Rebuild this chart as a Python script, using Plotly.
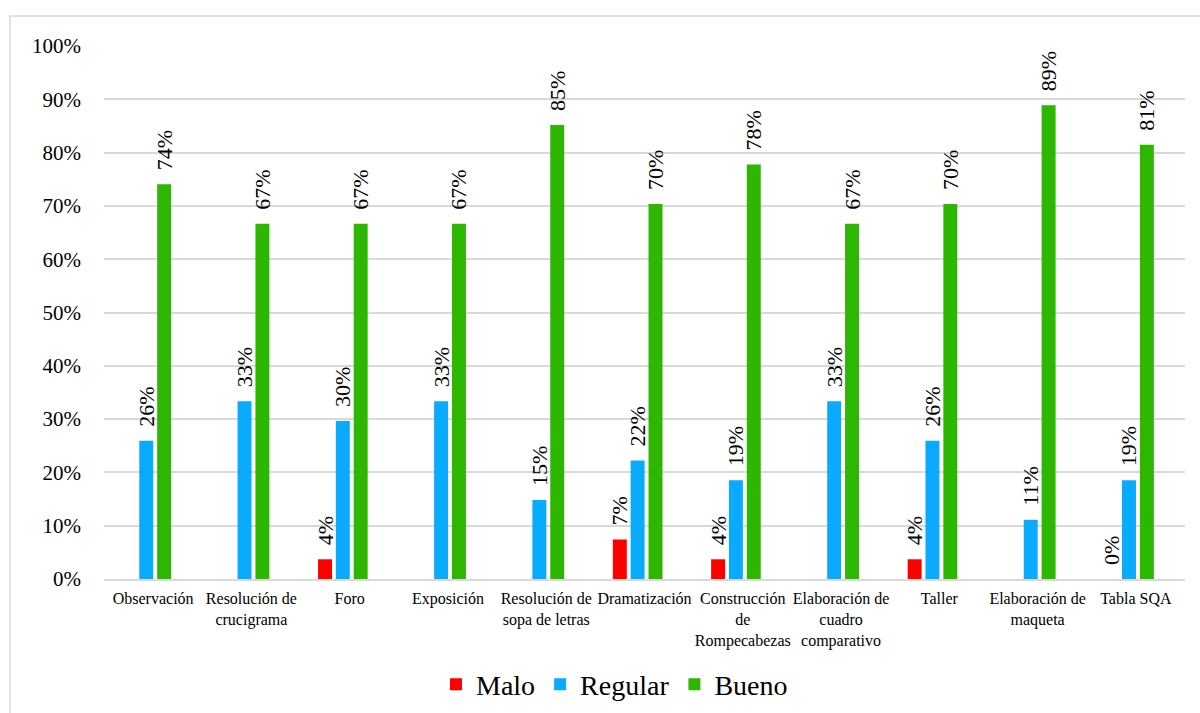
import plotly.graph_objects as go

# Estrategias evaluadas y proporción de estudiantes por nivel de desempeño
categorias = [
    "Observación",
    "Resolución de<br>crucigrama",
    "Foro",
    "Exposición",
    "Resolución de<br>sopa de letras",
    "Dramatización",
    "Construcción<br>de<br>Rompecabezas",
    "Elaboración de<br>cuadro<br>comparativo",
    "Taller",
    "Elaboración de<br>maqueta",
    "Tabla SQA",
]

malo = [None, None, 0.0370, None, None, 0.0741, 0.0370, None, 0.0370, None, 0.0]
regular = [0.2593, 0.3333, 0.2963, 0.3333, 0.1481, 0.2222, 0.1852, 0.3333, 0.2593, 0.1111, 0.1852]
bueno = [0.7407, 0.6667, 0.6667, 0.6667, 0.8519, 0.7037, 0.7778, 0.6667, 0.7037, 0.8889, 0.8148]

y_ticks = [i / 10 for i in range(11)]

FONT = "Liberation Serif"

# (nombre, valores, color, desplazamiento de la barra dentro de la categoría)
series = [
    ("Malo", malo, "#FF0000", -0.322),
    ("Regular", regular, "#0AAAFF", -0.141),
    ("Bueno", bueno, "#2DB700", 0.041),
]
BAR_WIDTH = 0.142

fig = go.Figure()
for nombre, valores, color, desplazamiento in series:
    fig.add_trace(
        go.Bar(
            name=nombre,
            x=categorias,
            y=valores,
            offset=desplazamiento,
            width=BAR_WIDTH,
            marker=dict(color=color, line=dict(width=0)),
            texttemplate="\u00a0\u00a0%{y:.0%}",
            textposition="outside",
            textangle=-90,
            constraintext="none",
            cliponaxis=False,
            textfont=dict(family=FONT, size=22, color="#000000"),
            hoverinfo="skip",
        )
    )

fig.update_layout(
    width=1200,
    height=713,
    margin=dict(l=104, r=15, t=46, b=134, autoexpand=False),
    paper_bgcolor="white",
    plot_bgcolor="white",
    barmode="overlay",
    font=dict(family=FONT, color="#000000"),
    showlegend=True,
    legend=dict(
        orientation="h",
        x=(436 - 104) / 1081,
        xanchor="left",
        y=0.04,
        yref="container",
        yanchor="middle",
        font=dict(family=FONT, size=28, color="#000000"),
        itemwidth=30,
        traceorder="normal",
    ),
    xaxis=dict(
        range=[-0.5, len(categorias) - 0.5],
        showgrid=False,
        showline=True,
        linecolor="#D9D9D9",
        linewidth=2,
        ticks="",
        ticklabelstandoff=4,
        tickfont=dict(family=FONT, size=16, color="#000000"),
    ),
    yaxis=dict(
        range=[0, 1],
        tickvals=y_ticks,
        tickformat=".0%",
        showgrid=True,
        gridcolor="#D9D9D9",
        gridwidth=1.5,
        zeroline=False,
        showline=False,
        ticks="",
        ticklabelstandoff=22,
        tickfont=dict(family=FONT, size=21, color="#000000"),
    ),
    shapes=[
        dict(
            type="rect",
            xref="paper",
            yref="paper",
            x0=(10 - 104) / 1081,
            x1=(1215 - 104) / 1081,
            y0=(579 - 720) / 533,
            y1=(579 - 16) / 533,
            line=dict(color="#D9D9D9", width=1.5),
            fillcolor="rgba(0,0,0,0)",
            layer="below",
        )
    ],
)

fig.write_html("out.html")
